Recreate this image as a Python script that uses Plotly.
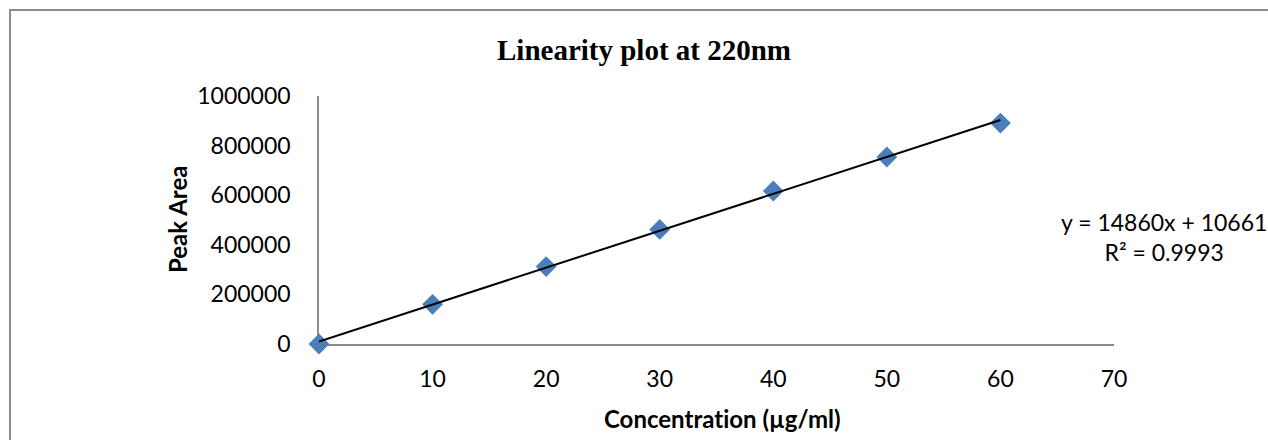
import numpy as np
import plotly.graph_objects as go

concentration = [0, 10, 20, 30, 40, 50, 60]
peak_area = [0, 160000, 312000, 462000, 617000, 754000, 891000]
x_ticks = [0, 10, 20, 30, 40, 50, 60, 70]
y_ticks = [0, 200000, 400000, 600000, 800000, 1000000]
title_text = "Linearity plot at 220nm"
x_title = "Concentrat\u200cion (µg/ml)"
y_title = "Peak Area"
equation_text = "y = 14860x + 10661<br>R² = 0.9993"

slope, intercept = np.polyfit(concentration, peak_area, 1)
fit_x = [concentration[0], concentration[-1]]
fit_y = [slope * v + intercept for v in fit_x]

L, R, T, B = 319, 154, 96, 96
W, H = 1268, 440
pw, ph = W - L - R, H - T - B

def px(xp):
    return (xp - L) / pw

def py(yp):
    return (H - B - yp) / ph

fig = go.Figure()
fig.add_trace(go.Scatter(
    x=concentration, y=peak_area, mode="markers", cliponaxis=False,
    marker=dict(symbol="diamond", size=16, color="#4A7EBB", line=dict(width=0)),
    showlegend=False, hoverinfo="x+y"))
fig.add_trace(go.Scatter(
    x=fit_x, y=fit_y, mode="lines", cliponaxis=False,
    line=dict(color="black", width=2), showlegend=False, hoverinfo="skip"))

tick_font = dict(family="Lato", size=23, color="black")

fig.update_layout(
    width=W, height=H,
    margin=dict(l=L, r=R, t=T, b=B, pad=0),
    paper_bgcolor="white", plot_bgcolor="white",
    title=dict(text=f"<b>{title_text}</b>", xref="paper", x=px(644), xanchor="center",
               yref="container", y=1 - 50 / H, yanchor="middle",
               font=dict(family="Liberation Serif", size=29, color="black")),
    xaxis=dict(range=[0, 70], tickvals=x_ticks, showgrid=False, zeroline=False,
               showline=True, linecolor="#8C8C8C", linewidth=1.5, ticks="",
               tickfont=tick_font, ticklabelstandoff=14, layer="below traces"),
    yaxis=dict(range=[0, 1000000], tickvals=y_ticks, showgrid=False, zeroline=False,
               showline=True, linecolor="#8C8C8C", linewidth=1.5, ticks="",
               tickfont=tick_font, ticklabelstandoff=22, tickformat="d",
               layer="below traces"),
    shapes=[dict(type="rect", xref="paper", yref="paper",
                 x0=px(10), x1=px(1290), y0=py(470), y1=py(10),
                 line=dict(color="#8C8C8C", width=2), fillcolor="rgba(0,0,0,0)",
                 layer="below")],
    annotations=[
        dict(text=f"<b>{y_title}</b>", xref="paper", yref="paper",
             x=px(177), y=py(220), textangle=-90, showarrow=False,
             xanchor="center", yanchor="middle",
             font=dict(family="Lato", size=24, color="black")),
        dict(text=f"<b>{x_title}</b>", xref="paper", yref="paper",
             x=px(722), y=py(418), showarrow=False,
             xanchor="center", yanchor="middle",
             font=dict(family="Lato", size=24, color="black")),
        dict(text=equation_text, xref="paper", yref="paper",
             x=px(1164), y=py(237), showarrow=False, align="center",
             xanchor="center", yanchor="middle",
             font=dict(family="Lato", size=23, color="black")),
    ],
)

fig.write_html("out.html")
